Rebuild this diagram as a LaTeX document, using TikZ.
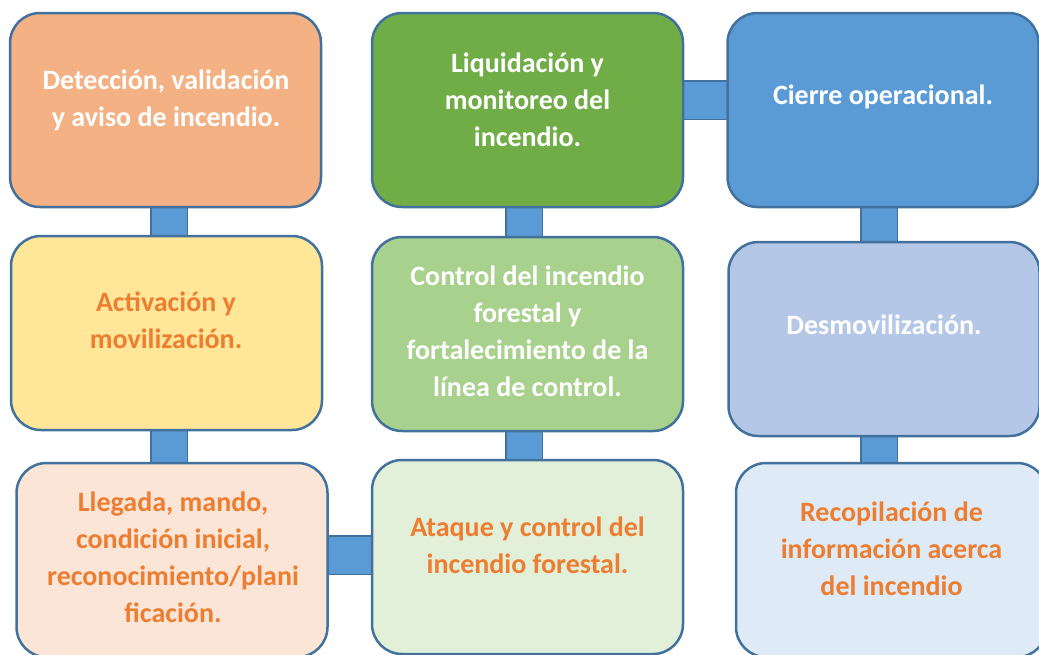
\documentclass[tikz,border=0pt]{standalone}
\usepackage{fontspec}
\setmainfont{Carlito}
\usetikzlibrary{backgrounds}
\definecolor{bordc}{HTML}{41719C}
\definecolor{barc}{HTML}{5B9BD5}
\definecolor{txtor}{HTML}{ED7D31}
\definecolor{cA}{HTML}{F4B183}
\definecolor{cB}{HTML}{70AD47}
\definecolor{cC}{HTML}{5B9BD5}
\definecolor{cD}{HTML}{FFE699}
\definecolor{cE}{HTML}{A9D18E}
\definecolor{cF}{HTML}{B4C7E7}
\definecolor{cG}{HTML}{FBE5D6}
\definecolor{cH}{HTML}{E2F0D9}
\definecolor{cI}{HTML}{DEEBF7}
\begin{document}
\begin{tikzpicture}[x=1pt,y=-1pt,
  box/.style={draw=bordc, line width=2.5pt, rounded corners=30pt,
    minimum width=311pt, minimum height=194pt, inner sep=0pt},
  txt/.style={font=\fontsize{28}{37}\selectfont\bfseries, align=center, inner sep=0pt},
  vbar/.style={draw=bordc, line width=1.5pt, double=barc, double distance=35pt},
  hbar/.style={draw=bordc, line width=1.5pt, double=barc, double distance=37pt}]
\useasboundingbox (0,0) rectangle (1039,654);
\clip (0,0) rectangle (1039,654);
\node[box, fill=cA] (b1) at (165.5,110) {};
\node[box, fill=cB] (b2) at (527.5,110) {};
\node[box, fill=cC] (b3) at (883,110) {};
\node[box, fill=cD] (b4) at (166.5,333) {};
\node[box, fill=cE] (b5) at (527.5,334) {};
\node[box, fill=cF] (b6) at (884,339) {};
\node[box, fill=cG] (b7) at (172,560) {};
\node[box, fill=cH] (b8) at (527.5,557) {};
\node[box, fill=cI] (b9) at (891.5,560) {};
\node[txt, text=white] (t1) at (166,100) {Detección, validación\\y aviso de incendio.};
\node[txt, text=white] (t2) at (527.5,100) {Liquidación y\\monitoreo del\\incendio.};
\node[txt, text=white] (t3) at (883,97) {Cierre operacional.};
\node[txt, text=txtor] (t4) at (166,320) {Activación y\\movilización.};
\node[txt, text=white] (t5) at (527.5,331) {Control del incendio\\forestal y\\fortalecimiento de la\\línea de control.};
\node[txt, text=white] (t6) at (884,325) {Desmovilización.};
\node[txt, text=txtor] (t7) at (173,557) {Llegada, mando,\\condición inicial,\\reconocimiento/plani\\ficación.};
\node[txt, text=txtor] (t8) at (527.5,545) {Ataque y control del\\incendio forestal.};
\node[txt, text=txtor] (t9) at (891.5,549) {Recopilación de\\información acerca\\del incendio};
\begin{pgfonlayer}{background}
\draw[vbar] (b1.center -| 169,0) -- (b4.center -| 169,0);
\draw[vbar] (b4.center -| 169,0) -- (b7.center -| 169,0);
\draw[vbar] (b2.center -| 524,0) -- (b5.center -| 524,0);
\draw[vbar] (b5.center -| 524,0) -- (b8.center -| 524,0);
\draw[vbar] (b3.center -| 879,0) -- (b6.center -| 879,0);
\draw[vbar] (b6.center -| 879,0) -- (b9.center -| 879,0);
\draw[hbar] (b2.center |- 0,100) -- (b3.center |- 0,100);
\draw[hbar] (b7.center |- 0,555) -- (b8.center |- 0,555);
\end{pgfonlayer}
\end{tikzpicture}
\end{document}
